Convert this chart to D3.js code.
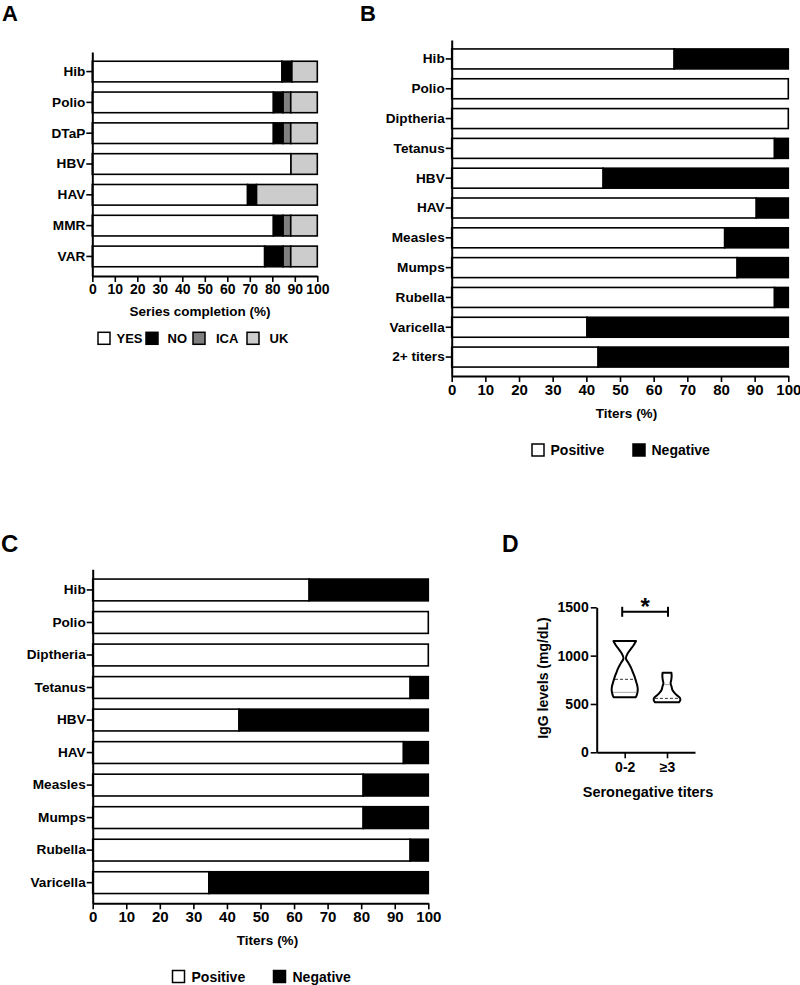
<!DOCTYPE html>
<html>
<head>
<meta charset="utf-8">
<script src="https://cdn.jsdelivr.net/npm/d3@7"></script>
<style>
  html, body { margin: 0; padding: 0; background: #fff; }
  svg { display: block; }
  text { font-family: "Liberation Sans", Arial, sans-serif; font-weight: bold; fill: #000; }
</style>
</head>
<body>
<svg id="chart" width="800" height="985"></svg>
<script>
// ---------------- DATA ----------------
// Panel A: vaccine series completion (%)
const aCategories = ["Hib", "Polio", "DTaP", "HBV", "HAV", "MMR", "VAR"];
const aSeries = ["YES", "NO", "ICA", "UK"];
const aYes = [84.3, 80.5, 80.5, 88.3, 69.0, 80.5, 76.6];
const aNo  = [4.4, 4.3, 4.3, 0, 4.0, 4.3, 8.2];
const aIca = [0, 3.4, 3.4, 0, 0, 3.4, 3.4];
const aUk  = [11.3, 11.8, 11.8, 11.7, 27.0, 11.8, 11.8];
const aTicks = [0, 10, 20, 30, 40, 50, 60, 70, 80, 90, 100];

// Panel B: titers (%)
const bCategories = ["Hib", "Polio", "Diptheria", "Tetanus", "HBV", "HAV", "Measles", "Mumps", "Rubella", "Varicella", "2+ titers"];
const bPositive = [66.1, 100, 100, 95.9, 45.0, 90.5, 81.1, 84.8, 95.9, 40.2, 43.5];
const bNegative = [33.9, 0, 0, 4.1, 55.0, 9.5, 18.9, 15.2, 4.1, 59.8, 56.5];

// Panel C: titers (%)
const cCategories = ["Hib", "Polio", "Diptheria", "Tetanus", "HBV", "HAV", "Measles", "Mumps", "Rubella", "Varicella"];
const cPositive = [64.5, 100, 100, 94.6, 43.6, 92.6, 80.6, 80.6, 94.6, 34.6];
const cNegative = [35.5, 0, 0, 5.4, 56.4, 7.4, 19.4, 19.4, 5.4, 65.4];

const titerSeries = ["Positive", "Negative"];
const pctTicks = [0, 10, 20, 30, 40, 50, 60, 70, 80, 90, 100];

// Panel D: IgG levels violin profiles (value mg/dL, relative density)
const dGroups = ["0-2", "≥3"];
const d02Values  = [1151, 1110, 1060, 1024, 972, 920, 870, 833, 780, 730, 680, 644, 610, 585, 569];
const d02Density = [0.85, 0.68, 0.41, 0.23, 0.09, 0.30, 0.49, 0.60, 0.75, 0.86, 0.96, 0.98, 0.94, 0.89, 0.83];
const d3Values   = [823, 790, 750, 713, 680, 644, 610, 585, 560, 540, 525, 517];
const d3Density  = [0.33, 0.35, 0.32, 0.27, 0.34, 0.41, 0.60, 0.79, 0.98, 1.00, 0.94, 0.90];
const d02Median = 755, d02Q1 = 620;
const d3Median = 558, d3Q3 = 700;
const dTicks = [0, 500, 1000, 1500];

// ---------------- DRAW ----------------
const svg = d3.select("#chart");
const colors = { YES: "#ffffff", NO: "#000000", ICA: "#808080", UK: "#cccccc", Positive: "#ffffff", Negative: "#000000" };

function panelLabel(txt, x, y, size) {
  svg.append("text").attr("x", x).attr("y", y).attr("font-size", size).text(txt);
}

function styleAxis(g, fontSize) {
  g.select(".domain").attr("stroke", "#000").attr("stroke-width", 2);
  g.selectAll(".tick line").attr("stroke", "#000").attr("stroke-width", 1.6);
  g.selectAll(".tick text").attr("font-size", fontSize).attr("font-family", "Liberation Sans, Arial, sans-serif").attr("font-weight", "bold").attr("fill", "#000");
}

function stackedBars(opt) {
  const rows = opt.categories.map((c, i) => {
    const r = { cat: c };
    opt.series.forEach((s, j) => r[s] = opt.values[j][i]);
    return r;
  });
  const x = d3.scaleLinear().domain([0, 100]).range([opt.x0, opt.x1]);
  const y = d3.scaleBand().domain(opt.categories).range([opt.top, opt.bottom]).paddingInner(0.33).paddingOuter(0.3);
  const stack = d3.stack().keys(opt.series)(rows);
  const g = svg.append("g");
  stack.forEach(layer => {
    g.selectAll(null).data(layer.filter(d => d[1] - d[0] > 0)).join("rect")
      .attr("x", d => x(d[0]))
      .attr("y", d => y(d.data.cat))
      .attr("width", d => x(d[1]) - x(d[0]))
      .attr("height", y.bandwidth())
      .attr("fill", colors[layer.key])
      .attr("stroke", "#000")
      .attr("stroke-width", 1.6);
  });
  const ax = svg.append("g").attr("transform", `translate(0,${opt.bottom})`)
    .call(d3.axisBottom(x).tickValues(opt.ticks).tickSize(6).tickSizeOuter(0).tickPadding(opt.tickPad));
  styleAxis(ax, opt.tickFont);
  const ay = svg.append("g").attr("transform", `translate(${opt.x0},0)`)
    .call(d3.axisLeft(y).tickSize(6).tickSizeOuter(0).tickPadding(1));
  styleAxis(ay, opt.labelFont);
  svg.append("text").attr("x", opt.titleX).attr("y", opt.titleY).attr("text-anchor", "middle")
    .attr("dy", "0.35em").attr("font-size", opt.titleFont).text(opt.title);
  // legend
  opt.legend.forEach(l => {
    svg.append("rect").attr("x", l.x).attr("y", opt.legendY - 6).attr("width", 12).attr("height", 12)
      .attr("fill", colors[l.key]).attr("stroke", "#000").attr("stroke-width", 1.5);
    svg.append("text").attr("x", l.tx).attr("y", opt.legendY).attr("dy", "0.36em")
      .attr("font-size", opt.legendFont).text(l.key);
  });
}

// Panel A
panelLabel("A", 2, 21, 22);
stackedBars({
  categories: aCategories, series: aSeries, values: [aYes, aNo, aIca, aUk],
  x0: 92.3, x1: 317.3, top: 52, bottom: 276, ticks: aTicks, tickPad: 2,
  tickFont: 14, labelFont: 13.6, title: "Series completion (%)", titleX: 200, titleY: 311.5, titleFont: 13.5,
  legendY: 338.3, legendFont: 13,
  legend: [{ key: "YES", x: 98, tx: 116.5 }, { key: "NO", x: 146, tx: 167.5 }, { key: "ICA", x: 193, tx: 216 }, { key: "UK", x: 247, tx: 269.5 }]
});

// Panel B
panelLabel("B", 360, 21, 22);
stackedBars({
  categories: bCategories, series: titerSeries, values: [bPositive, bNegative],
  x0: 451.7, x1: 788.3, top: 40, bottom: 376, ticks: pctTicks, tickPad: 2,
  tickFont: 15, labelFont: 13.6, title: "Titers (%)", titleX: 626.5, titleY: 413, titleFont: 13.5,
  legendY: 450, legendFont: 14,
  legend: [{ key: "Positive", x: 532, tx: 550.5 }, { key: "Negative", x: 633, tx: 651.5 }]
});

// Panel C
panelLabel("C", 1, 551.5, 24);
stackedBars({
  categories: cCategories, series: titerSeries, values: [cPositive, cNegative],
  x0: 92.7, x1: 428.3, top: 569.3, bottom: 903.3, ticks: pctTicks, tickPad: 2,
  tickFont: 15, labelFont: 13.6, title: "Titers (%)", titleX: 267.5, titleY: 940, titleFont: 13.5,
  legendY: 976.5, legendFont: 14,
  legend: [{ key: "Positive", x: 172.5, tx: 191.5 }, { key: "Negative", x: 273.5, tx: 292.5 }]
});

// Panel D
panelLabel("D", 502, 551.5, 23);
const yD = d3.scaleLinear().domain([0, 1500]).range([752.3, 607.3]);
const xD = d3.scalePoint().domain(dGroups).range([596.7, 695]).padding(0.662);
const wD = d3.scaleLinear().domain([0, 1]).range([0, 13.3]);

const profiles = [
  { group: dGroups[0], values: d02Values, dens: d02Density, lines: [{ v: d02Median, type: "median" }, { v: d02Q1, type: "q" }] },
  { group: dGroups[1], values: d3Values, dens: d3Density, lines: [{ v: d3Median, type: "median" }, { v: d3Q3, type: "q" }] }
];
profiles.forEach(p => {
  const cx = xD(p.group);
  const pts = p.values.map((v, i) => ({ v, d: p.dens[i] }));
  const area = d3.area()
    .y(d => yD(d.v))
    .x0(d => cx - wD(d.d))
    .x1(d => cx + wD(d.d))
    .curve(d3.curveCatmullRom);
  svg.append("path").datum(pts).attr("d", area)
    .attr("fill", "#fff").attr("stroke", "#000").attr("stroke-width", 2).attr("stroke-linejoin", "round");
  const interp = d3.scaleLinear().domain(p.values.slice().reverse()).range(p.dens.slice().reverse()).clamp(true);
  p.lines.forEach(l => {
    const hw = wD(interp(l.v)) - 1;
    svg.append("line").attr("x1", cx - hw).attr("x2", cx + hw).attr("y1", yD(l.v)).attr("y2", yD(l.v))
      .attr("stroke", l.type === "median" ? "#333" : "#aaa")
      .attr("stroke-width", 1)
      .attr("stroke-dasharray", l.type === "median" ? "3,2" : null);
  });
});

const axD = svg.append("g").attr("transform", "translate(0,752.3)")
  .call(d3.axisBottom(xD).tickSize(6).tickSizeOuter(0).tickPadding(4));
styleAxis(axD, 14);
const ayD = svg.append("g").attr("transform", "translate(596.7,0)")
  .call(d3.axisLeft(yD).tickValues(dTicks).tickSize(6).tickSizeOuter(0).tickFormat(d3.format("d")).tickPadding(2));
styleAxis(ayD, 14);
svg.append("text").attr("transform", "translate(543,678) rotate(-90)").attr("text-anchor", "middle")
  .attr("dy", "0.35em").attr("font-size", 14).text("IgG levels (mg/dL)");
svg.append("text").attr("x", 648).attr("y", 792).attr("text-anchor", "middle").attr("dy", "0.35em")
  .attr("font-size", 14.5).text("Seronegative titers");

// significance bracket
const bx0 = xD(dGroups[0]) - 2.5, bx1 = xD(dGroups[1]) + 1;
const by = yD(1500) + 4.5;
svg.append("line").attr("x1", bx0).attr("x2", bx1).attr("y1", by).attr("y2", by).attr("stroke", "#000").attr("stroke-width", 2);
[bx0, bx1].forEach(bx => svg.append("line").attr("x1", bx).attr("x2", bx).attr("y1", by - 5).attr("y2", by + 5).attr("stroke", "#000").attr("stroke-width", 2));
svg.append("text").attr("x", (bx0 + bx1) / 2).attr("y", by + 3).attr("text-anchor", "middle").attr("font-size", 24).text("*");
</script>
</body>
</html>
